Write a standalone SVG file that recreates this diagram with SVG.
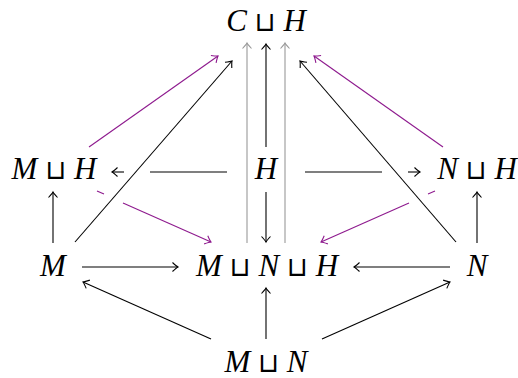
<svg xmlns="http://www.w3.org/2000/svg" width="518" height="378" viewBox="0 0 518 378">
<style>
text{font-family:"Liberation Serif","DejaVu Serif",serif;font-size:31px;fill:#000;text-anchor:middle}
.i{font-style:italic}
.op{font-family:"DejaVu Sans",sans-serif;font-size:27px}
.k{stroke:#000;stroke-width:1.1;fill:none}
.g{stroke:#999;stroke-width:1.1;fill:none}
.m{stroke:#8e1a8e;stroke-width:1.1;fill:none}
</style>
<defs>
<marker id="ak" markerWidth="12" markerHeight="12" refX="0" refY="0" viewBox="-6 -6 12 12" orient="auto" markerUnits="userSpaceOnUse"><path d="M-5.5 -4.5 Q-1.5 -0.8 0 0 Q-1.5 0.8 -5.5 4.5" fill="none" stroke="#000" stroke-width="1.1"/></marker>
<marker id="ag" markerWidth="12" markerHeight="12" refX="0" refY="0" viewBox="-6 -6 12 12" orient="auto" markerUnits="userSpaceOnUse"><path d="M-5.5 -4.5 Q-1.5 -0.8 0 0 Q-1.5 0.8 -5.5 4.5" fill="none" stroke="#999" stroke-width="1.1"/></marker>
<marker id="am" markerWidth="12" markerHeight="12" refX="0" refY="0" viewBox="-6 -6 12 12" orient="auto" markerUnits="userSpaceOnUse"><path d="M-5.5 -4.5 Q-1.5 -0.8 0 0 Q-1.5 0.8 -5.5 4.5" fill="none" stroke="#8e1a8e" stroke-width="1.1"/></marker>
</defs>
<g id="connectors">
<path class="g" d="M247 243 L247 43" marker-end="url(#ag)"/>
<path class="g" d="M285 243 L285 43" marker-end="url(#ag)"/>
<path class="k" d="M266 147 L266 44" marker-end="url(#ak)"/>
<path class="k" d="M266 192 L266 242" marker-end="url(#ak)"/>
<path class="k" d="M227 172 L150 172"/>
<path class="k" d="M124 172 L112 172" marker-end="url(#ak)" stroke-width="1.6"/>
<path class="k" d="M305 172 L382 172"/>
<path class="k" d="M408 172 L420 172" marker-end="url(#ak)" stroke-width="1.6"/>
<path class="k" d="M82 267 L178 267" marker-end="url(#ak)"/>
<path class="k" d="M450 267 L354 267" marker-end="url(#ak)"/>
<path class="k" d="M211 339 L83 282" marker-end="url(#ak)"/>
<path class="k" d="M322 339 L450 282" marker-end="url(#ak)"/>
<path class="k" d="M266 339 L266 288" marker-end="url(#ak)"/>
<path class="k" d="M53 243 L53 192" marker-end="url(#ak)"/>
<path class="k" d="M477 243 L477 192" marker-end="url(#ak)"/>
<path class="k" d="M75 242 L232 61" marker-end="url(#ak)"/>
<path class="k" d="M456 242 L300 61" marker-end="url(#ak)"/>
<path class="m" d="M89 147 L218 56" marker-end="url(#am)"/>
<path class="m" d="M443 147 L314 56" marker-end="url(#am)"/>
<path class="m" d="M97 191 L104 194"/>
<path class="m" d="M123 203 L211 242" marker-end="url(#am)"/>
<path class="m" d="M435 191 L428 194"/>
<path class="m" d="M409 203 L321 242" marker-end="url(#am)"/>
</g>
<g id="CH"><text x="266" y="31"><tspan class="i">C</tspan> <tspan class="op">⊔</tspan> <tspan class="i">H</tspan></text></g>
<g id="MH"><text x="54" y="179"><tspan class="i">M</tspan> <tspan class="op">⊔</tspan> <tspan class="i">H</tspan></text></g>
<g id="H"><text x="266" y="179"><tspan class="i">H</tspan></text></g>
<g id="NH"><text x="477" y="179"><tspan class="i">N</tspan> <tspan class="op">⊔</tspan> <tspan class="i">H</tspan></text></g>
<g id="M"><text x="53" y="276"><tspan class="i">M</tspan></text></g>
<g id="MNH"><text x="267" y="276"><tspan class="i">M</tspan> <tspan class="op">⊔</tspan> <tspan class="i">N</tspan> <tspan class="op">⊔</tspan> <tspan class="i">H</tspan></text></g>
<g id="N"><text x="477" y="276"><tspan class="i">N</tspan></text></g>
<g id="MN"><text x="266" y="372"><tspan class="i">M</tspan> <tspan class="op">⊔</tspan> <tspan class="i">N</tspan></text></g>
</svg>
